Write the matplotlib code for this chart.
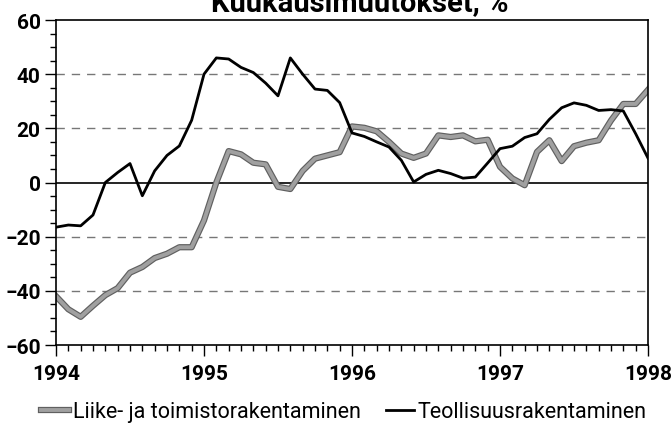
import matplotlib.pyplot as plt
import matplotlib.patheffects as pe
import numpy as np
from matplotlib.ticker import MultipleLocator

plt.rcParams['font.family'] = ['Roboto', 'DejaVu Sans']

# monthly values, Jan 1994 .. Jan 1998
liike = [-42, -46.8, -49.6, -45.5, -41.6, -39, -33.3, -31.2, -27.9, -26.3, -23.9, -23.9,
         -14, 0, 11.6, 10.4, 7.3, 6.7, -1.6, -2.4, 4.3, 8.8, 10, 11.2,
         20.7, 20.2, 18.9, 15, 10.7, 9.1, 10.7, 17.4, 16.8, 17.4, 15.2, 15.8,
         5.8, 1.5, -1, 11.3, 15.6, 7.9, 13.4, 14.7, 15.6, 22.9, 29, 29, 34.2]
teoll = [-16.5, -15.7, -16, -12, 0, 3.7, 7, -4.9, 4.3, 10, 13.5, 23,
         40, 46, 45.6, 42.5, 40.6, 36.7, 32, 46, 40, 34.5, 34, 29.5,
         18.3, 17, 15, 13.1, 8.2, 0.2, 3, 4.5, 3.3, 1.6, 2, 7.2,
         12.5, 13.4, 16.6, 18, 23.3, 27.6, 29.4, 28.5, 26.6, 26.9, 26.4, 18, 9]
years = [1994, 1995, 1996, 1997, 1998]

x = 1994 + np.arange(len(liike)) / 12

fig = plt.figure(figsize=(6.71, 4.31), dpi=100)
ax = fig.add_axes([56 / 671, 1 - 346 / 431, 592 / 671, 325 / 431])

for yv in [-40, -20, 20, 40]:
    ax.axhline(yv, color='#777777', lw=1, ls=(0, (6, 5)), zorder=1)
ax.axhline(0, color='black', lw=1.2, zorder=1)

ax.plot(x, teoll, color='black', lw=2, zorder=3, label='Teollisuusrakentaminen')
ax.plot(x, liike, color='#a0a0a0', lw=2.8, zorder=2,
        path_effects=[pe.Stroke(linewidth=4.5, foreground='#606060'), pe.Normal()],
        label='Liike- ja toimistorakentaminen')

ax.set_xlim(1994, 1998)
ax.set_ylim(-60, 60)
ax.set_xticks(years)
ax.xaxis.set_minor_locator(MultipleLocator(1 / 12))
ax.yaxis.set_major_locator(MultipleLocator(20))
ax.yaxis.set_minor_locator(MultipleLocator(5))
ax.tick_params(which='major', length=8, width=1, direction='out', labelsize=15)
ax.tick_params(axis='y', which='major', pad=3)
ax.tick_params(axis='x', which='major', pad=6)
ax.tick_params(which='minor', length=4, width=1, direction='out')
for lab in ax.get_xticklabels() + ax.get_yticklabels():
    lab.set_fontweight('bold')
for s in ax.spines.values():
    s.set_linewidth(1.2)

fig.text(360 / 671, 1 - 11 / 431, 'Kuukausimuutokset, %', ha='center', va='baseline',
         fontsize=21, fontweight='bold')

h, l = ax.get_legend_handles_labels()
fig.legend(h[::-1], l[::-1], loc='center', bbox_to_anchor=(344 / 671, 1 - 413 / 431),
           ncol=2, frameon=False, fontsize=15.5, handlelength=1.3, handletextpad=0.15,
           columnspacing=1.2, borderpad=0)

fig.savefig('out.png', dpi=100)
